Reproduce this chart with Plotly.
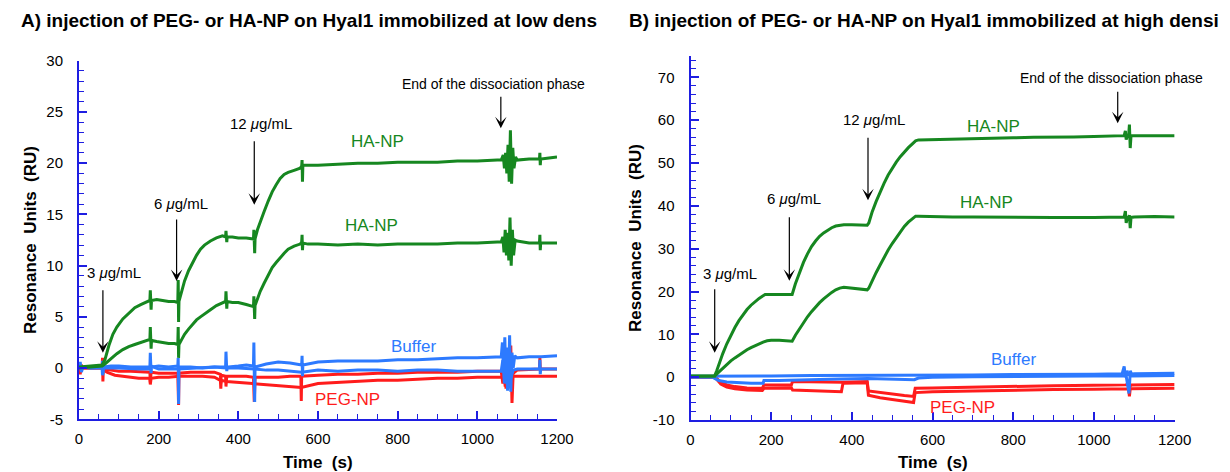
import plotly.graph_objects as go

# ---------------- data (time s, RU) ----------------
# Panel A: low density
A_HA_HIGH = [(0,0.1),(30,0.2),(58,0.3),(65,0.8),(75,2.2),(85,3.3),(95,4.0),(110,4.8),(125,5.4),(140,5.9),
             (155,6.2),(170,6.5),(178,6.6),(179,7.6),(181,5.7),(182,6.6),(195,6.7),(210,6.6),(225,6.5),
             (240,6.5),(248,6.4),(249,8.6),(250,4.5),(251,6.5),(258,7.5),(265,8.5),(275,9.5),(285,10.3),
             (295,11.0),(305,11.6),(315,12.0),(330,12.4),(345,12.7),(360,12.9),(368,12.8),(369,13.4),
             (371,12.3),(372,12.8),(385,12.8),(400,12.7),(420,12.7),(438,12.6),(439,13.5),(441,11.2),
             (442,12.6),(448,13.5),(455,14.3),(465,15.3),(475,16.3),(485,17.2),(495,17.9),(505,18.5),
             (515,18.9),(525,19.1),(540,19.3),(555,19.5),(559,19.7),(560,20.3),(561,18.2),(562,19.8),
             (575,19.8),(600,19.8),(650,19.9),(700,20.0),(750,20.0),(800,20.1),(850,20.1),(900,20.1),
             (950,20.2),(1000,20.2),(1050,20.3),(1060,20.3),(1065,20.8),(1068,19.5),(1071,21.0),
             (1074,19.0),(1077,21.8),(1080,18.2),(1083,23.2),(1086,18.0),(1089,21.5),(1092,19.5),
             (1096,20.6),(1100,20.3),(1130,20.4),(1156,20.4),(1157,21.0),(1158,19.8),(1159,20.4),
             (1180,20.5),(1200,20.6)]
A_HA_LOW = [(0,0.0),(30,0.1),(58,0.2),(65,0.4),(80,0.9),(95,1.4),(110,1.8),(125,2.1),(140,2.3),(155,2.5),
            (170,2.7),(178,2.8),(179,4.0),(181,1.9),(182,2.7),(195,2.6),(210,2.5),(225,2.4),(240,2.4),
            (248,2.3),(249,4.0),(250,1.0),(251,2.3),(258,2.8),(265,3.3),(275,3.8),(285,4.3),(295,4.7),
            (305,5.0),(315,5.3),(330,5.7),(345,6.1),(360,6.4),(368,6.5),(369,7.5),(371,5.8),(372,6.5),
            (385,6.4),(400,6.4),(420,6.2),(438,6.0),(439,7.0),(441,4.8),(442,6.1),(448,6.8),(455,7.5),
            (465,8.3),(475,9.1),(485,9.8),(495,10.3),(505,10.8),(515,11.2),(525,11.6),(540,11.9),
            (555,12.1),(559,12.3),(560,13.0),(561,11.5),(562,12.2),(575,12.1),(600,12.1),(650,12.0),
            (700,12.1),(750,12.0),(800,12.1),(850,12.1),(900,12.1),(950,12.2),(1000,12.2),(1050,12.3),
            (1060,12.3),(1064,12.8),(1067,11.3),(1070,13.5),(1073,11.0),(1076,13.2),(1079,10.5),
            (1082,14.7),(1085,10.0),(1088,13.5),(1091,11.0),(1095,12.5),(1100,12.4),(1130,12.2),
            (1156,12.2),(1157,13.0),(1158,11.5),(1159,12.2),(1180,12.2),(1200,12.2)]
A_BUF_1 = [(0,0.0),(3,0.6),(6,-0.4),(10,0.1),(30,0.0),(58,0.1),(59,0.7),(60,-0.6),(61,0.1),(80,0.2),
           (100,0.2),(130,0.1),(150,0.1),(178,0.1),(179,1.5),(181,-0.5),(182,0.1),(200,0.2),(225,0.1),
           (248,0.2),(249,1.0),(250,-3.5),(251,0.1),(280,0.1),(310,0.0),(340,0.1),(368,0.1),(369,1.6),
           (371,-0.3),(372,0.1),(400,0.2),(420,0.3),(438,0.2),(439,2.5),(441,-3.3),(442,0.1),(470,0.4),
           (500,0.6),(530,0.5),(559,0.3),(560,1.2),(561,-0.8),(562,0.3),(600,0.6),(650,0.7),(700,0.7),
           (750,0.7),(800,0.8),(850,0.8),(900,0.9),(950,1.0),(1000,1.0),(1050,1.1),(1060,1.1),
           (1063,2.5),(1066,-0.3),(1069,3.0),(1072,-1.5),(1075,2.0),(1078,-2.0),(1081,3.2),(1084,-2.3),
           (1087,1.5),(1090,0.0),(1094,1.2),(1100,1.0),(1130,1.1),(1160,1.1),(1200,1.2)]
A_BUF_2 = [(0,0.1),(30,0.0),(58,0.0),(59,-0.7),(61,0.0),(100,0.0),(150,-0.1),(178,-0.1),(181,0.2),
           (200,-0.1),(250,-0.1),(300,0.0),(340,0.1),(370,0.0),(400,0.0),(440,-0.1),(470,-0.2),
           (500,-0.2),(530,-0.3),(559,-0.4),(600,-0.2),(650,-0.3),(700,-0.2),(750,-0.2),(800,-0.3),
           (850,-0.2),(900,-0.2),(950,-0.3),(1000,-0.3),(1050,-0.3),(1060,-0.3),(1064,0.8),(1068,-1.5),
           (1072,1.0),(1076,-2.2),(1080,0.5),(1084,-1.0),(1090,-0.2),(1100,-0.1),(1156,-0.1),
           (1157,0.8),(1158,-0.6),(1159,-0.1),(1200,-0.1)]
A_PEG_1 = [(0,0.0),(3,-0.6),(6,0.3),(10,0.0),(30,0.0),(58,0.0),(59,1.0),(60,-1.3),(61,-0.1),(80,-0.2),
           (100,-0.3),(130,-0.3),(160,-0.4),(178,-0.4),(179,-1.4),(181,-0.4),(200,-0.5),(225,-0.5),
           (248,-0.5),(250,-3.6),(251,-0.5),(280,-0.4),(310,-0.4),(340,-0.4),(355,-0.6),(356,-1.5),
           (357,-0.7),(368,-0.8),(369,-1.8),(371,-0.8),(400,-0.8),(420,-0.8),(438,-0.9),(440,-3.3),
           (442,-0.9),(470,-0.9),(500,-0.9),(530,-0.8),(557,-0.8),(558,-3.2),(559,-0.8),(600,-0.7),
           (650,-0.6),(700,-0.6),(750,-0.5),(800,-0.5),(850,-0.4),(900,-0.4),(950,-0.4),(1000,-0.3),
           (1050,-0.3),(1060,-0.3),(1064,-1.5),(1068,0.8),(1072,-2.0),(1076,1.0),(1080,-1.0),
           (1084,2.2),(1087,-3.4),(1090,-0.5),(1100,-0.2),(1150,-0.1),(1156,-0.1),(1157,1.0),
           (1158,-0.1),(1200,-0.1)]
A_PEG_2 = [(0,0.0),(58,0.0),(60,-0.1),(70,-0.4),(90,-0.7),(110,-0.8),(130,-0.9),(150,-1.0),(178,-1.0),
           (179,-1.6),(181,-1.0),(200,-0.9),(225,-0.9),(248,-0.8),(251,-0.8),(280,-0.8),(310,-0.8),
           (340,-0.9),(355,-1.2),(356,-2.0),(357,-1.2),(370,-1.3),(400,-1.4),(420,-1.5),(440,-1.5),
           (470,-1.6),(500,-1.7),(530,-1.8),(555,-1.9),(558,-1.9),(600,-1.5),(650,-1.4),(700,-1.3),
           (750,-1.2),(800,-1.2),(850,-1.1),(900,-1.0),(950,-1.0),(1000,-0.9),(1050,-0.9),(1062,-0.9),
           (1066,-0.2),(1070,-1.8),(1074,-0.4),(1078,-1.5),(1082,-0.8),(1090,-0.8),(1100,-0.8),
           (1150,-0.8),(1200,-0.8)]

# Panel B: high density
B_HA_HIGH = [(0,0.3),(30,0.3),(58,0.2),(60,0.3),(65,1.5),(70,3.0),(80,5.5),(90,7.8),(100,9.8),(110,11.6),
             (120,13.2),(130,14.6),(140,15.8),(150,16.8),(160,17.7),(170,18.4),(180,19.0),(185,19.3),
             (200,19.3),(220,19.3),(240,19.3),(248,19.2),(252,19.3),(260,21.8),(270,24.5),(280,26.8),
             (290,28.8),(300,30.5),(310,31.8),(320,32.9),(330,33.7),(340,34.4),(350,34.9),(360,35.3),
             (370,35.5),(380,35.6),(400,35.6),(420,35.6),(438,35.5),(442,36.0),(450,38.5),(460,41.0),
             (470,43.3),(480,45.3),(490,47.2),(500,48.8),(510,50.2),(520,51.5),(530,52.6),(540,53.6),
             (550,54.5),(558,55.2),(565,55.4),(600,55.5),(650,55.6),(700,55.7),(750,55.8),(800,55.9),
             (850,56.0),(900,56.0),(950,56.1),(1000,56.2),(1050,56.3),(1075,56.4),(1078,57.5),
             (1080,55.5),(1083,56.3),(1086,56.4),(1088,59.0),(1090,53.5),(1092,56.4),(1100,56.4),
             (1150,56.5),(1200,56.4)]
B_HA_LOW = [(0,0.2),(58,0.2),(60,0.3),(70,1.2),(80,2.1),(90,3.0),(100,3.8),(110,4.5),(120,5.2),(130,5.8),
            (140,6.4),(150,6.9),(160,7.4),(170,7.8),(180,8.2),(190,8.5),(200,8.6),(220,8.6),(240,8.5),
            (248,8.3),(252,8.4),(260,9.8),(270,11.3),(280,12.8),(290,14.1),(300,15.3),(310,16.4),
            (320,17.4),(330,18.3),(340,19.1),(350,19.8),(360,20.4),(370,20.8),(380,21.0),(400,20.8),
            (420,20.6),(438,20.4),(442,20.8),(450,22.5),(460,24.4),(470,26.2),(480,28.0),(490,29.7),
            (500,31.2),(510,32.6),(520,34.0),(530,35.2),(540,36.2),(550,37.0),(558,37.6),(565,37.6),
            (600,37.5),(650,37.4),(700,37.4),(800,37.3),(900,37.3),(1000,37.3),(1050,37.3),(1075,37.4),
            (1078,38.8),(1080,36.0),(1083,37.3),(1086,37.3),(1088,37.8),(1090,34.8),(1092,37.3),
            (1100,37.4),(1150,37.5),(1200,37.4)]
B_BUF_1 = [(0,0.2),(60,0.2),(100,0.3),(200,0.3),(300,0.4),(400,0.4),(500,0.5),(600,0.5),(700,0.5),
           (800,0.6),(900,0.6),(1000,0.7),(1070,0.8),(1075,2.5),(1078,0.0),(1082,1.5),(1085,0.6),
           (1100,0.8),(1200,0.9)]
B_BUF_2 = [(0,0.0),(55,0.0),(60,-0.3),(70,-0.8),(90,-1.1),(120,-1.3),(150,-1.4),(180,-1.4),(182,-0.8),
           (220,-0.8),(250,-0.7),(300,-0.5),(370,-0.4),(440,-0.3),(500,-0.5),(555,-0.6),(565,-0.2),
           (600,0.0),(700,0.1),(800,0.2),(900,0.3),(1000,0.3),(1080,0.3),(1087,-3.8),(1089,-0.5),
           (1090,1.5),(1095,0.3),(1200,0.4)]
B_PEG_1 = [(0,0.0),(60,0.0),(65,-0.3),(75,-1.2),(90,-1.8),(110,-2.2),(140,-2.5),(178,-2.6),(182,-1.8),
           (220,-1.8),(250,-1.8),(253,-1.0),(300,-1.1),(340,-1.2),(376,-1.2),(400,-1.1),(438,-1.0),
           (441,-3.2),(470,-3.6),(500,-4.0),(530,-4.3),(553,-4.5),(557,-2.6),(600,-2.5),(700,-2.3),
           (800,-2.1),(900,-2.0),(1000,-1.9),(1080,-1.8),(1086,-1.3),(1088,-2.5),(1092,-1.8),(1200,-1.7)]
B_PEG_2 = [(0,0.0),(60,0.0),(65,-0.5),(75,-1.6),(90,-2.3),(110,-2.7),(140,-3.0),(178,-3.1),(182,-2.6),
           (220,-2.5),(250,-2.5),(253,-3.0),(300,-3.2),(340,-3.3),(374,-3.4),(378,-1.4),(400,-1.4),
           (438,-1.3),(441,-4.2),(470,-4.8),(500,-5.2),(530,-5.6),(553,-5.9),(557,-3.6),(600,-3.4),
           (700,-3.2),(800,-3.0),(900,-2.9),(1000,-2.8),(1086,-2.7),(1088,-4.5),(1090,-2.7),(1200,-2.6)]

X_TICKS = [0, 200, 400, 600, 800, 1000, 1200]
A_Y_TICKS = [-5, 0, 5, 10, 15, 20, 25, 30]
B_Y_TICKS = [-10, 0, 10, 20, 30, 40, 50, 60, 70]

TITLE_A = "A) injection of PEG- or HA-NP on Hyal1 immobilized at low dens"
TITLE_B = "B) injection of PEG- or HA-NP on Hyal1 immobilized at high densi"

# ---------------- style ----------------
FONT = "Liberation Sans, Arial, sans-serif"
GREEN = "rgb(22,135,32)"
RED = "rgb(255,28,28)"
BLUE = "rgb(45,122,255)"
AXBLUE = "rgb(30,30,225)"
W, H = 1230, 472

fig = go.Figure()

def add(series, color, xa, ya):
    fig.add_trace(go.Scatter(x=[p[0] for p in series], y=[p[1] for p in series], mode="lines",
                             line=dict(color=color, width=3), xaxis=xa, yaxis=ya,
                             showlegend=False, hoverinfo="skip"))

for s, c in [(A_PEG_1, RED), (A_PEG_2, RED), (A_BUF_2, BLUE), (A_BUF_1, BLUE),
             (A_HA_LOW, GREEN), (A_HA_HIGH, GREEN)]:
    add(s, c, "x", "y")
for s, c in [(B_PEG_1, RED), (B_PEG_2, RED), (B_BUF_2, BLUE), (B_BUF_1, BLUE),
             (B_HA_LOW, GREEN), (B_HA_HIGH, GREEN)]:
    add(s, c, "x2", "y2")

def axis(domain, rng, tickvals, minor_dtick, anchor, standoff):
    return dict(domain=domain, range=rng, tickmode="array", tickvals=tickvals,
                ticktext=[str(v) for v in tickvals],
                showline=True, linecolor=AXBLUE, linewidth=2, ticks="inside", tickcolor=AXBLUE,
                tickwidth=1.5, ticklen=8, showgrid=False, zeroline=False, anchor=anchor,
                tickfont=dict(family=FONT, size=15, color="black"), ticklabelstandoff=standoff,
                minor=dict(ticks="inside", dtick=minor_dtick, ticklen=5, tickcolor=AXBLUE,
                           tickwidth=1.2, showgrid=False),
                fixedrange=True, automargin=False)

fig.update_layout(
    width=W, height=H, margin=dict(l=0, r=0, t=0, b=0),
    paper_bgcolor="white", plot_bgcolor="white",
    font=dict(family=FONT, color="black"),
    xaxis=axis([79/W, 557/W], [0, 1200], X_TICKS, 50, "y", 5),
    yaxis=axis([1-419.3/H, 1-60.7/H], [-5, 30], A_Y_TICKS, 1, "x", 11),
    xaxis2=axis([690.5/W, 1174.6/W], [0, 1200], X_TICKS, 50, "y2", 5),
    yaxis2=axis([1-420/H, 1-56/H], [-10, 75], B_Y_TICKS, 2, "x2", 11),
)

ann = []
def text(x, y, s, xref, yref, size=15, color="black", xanchor="center", yanchor="middle", **kw):
    ann.append(dict(x=x, y=y, xref=xref, yref=yref, text=s, showarrow=False,
                    xanchor=xanchor, yanchor=yanchor,
                    font=dict(family=FONT, size=size, color=color), **kw))

def arrow(x, y, ay, xref, yref):
    ann.append(dict(x=x, y=y, xref=xref, yref=yref, text="", showarrow=True, ax=0, ay=ay,
                    arrowhead=3, arrowsize=1.6, arrowwidth=1.2, arrowcolor="black"))

# titles
text(19/W, 1-20/H, "<b>" + TITLE_A + "</b>", "paper", "paper", size=19, xanchor="left")
text(627/W, 1-20/H, "<b>" + TITLE_B + "</b>", "paper", "paper", size=19, xanchor="left")
# axis titles
text(30/W, 1-240/H, "<b>Resonance\u00a0 Units\u00a0 (RU)</b>", "paper", "paper", size=17, textangle=-90)
text(635/W, 1-238/H, "<b>Resonance\u00a0 Units\u00a0 (RU)</b>", "paper", "paper", size=17, textangle=-90)
text(318/W, 1-462/H, "<b>Time\u00a0 (s)</b>", "paper", "paper", size=17)
text(933/W, 1-462/H, "<b>Time\u00a0 (s)</b>", "paper", "paper", size=17)

# panel A annotations
text(87, 9.35, "3 <i>\u03bc</i>g/mL", "x", "y")
arrow(60, 1.5, -64, "x", "y")
text(255, 16.1, "6 <i>\u03bc</i>g/mL", "x", "y")
arrow(245, 8.5, -63, "x", "y")
text(457, 23.9, "12 <i>\u03bc</i>g/mL", "x", "y")
arrow(440, 15.95, -65, "x", "y")
text(1041, 27.75, "End of the dissociation phase", "x", "y", size=14)
arrow(1059, 23.4, -33, "x", "y")
text(750, 22.1, "HA-NP", "x", "y", size=17, color=GREEN)
text(735, 13.9, "HA-NP", "x", "y", size=17, color=GREEN)
text(840, 2.15, "Buffer", "x", "y", size=17, color=BLUE)
text(675, -3.05, "PEG-NP", "x", "y", size=17, color=RED)

# panel B annotations
text(97, 24.1, "3 <i>\u03bc</i>g/mL", "x2", "y2")
arrow(60, 5.7, -65, "x2", "y2")
text(257, 41.7, "6 <i>\u03bc</i>g/mL", "x2", "y2")
arrow(245, 22.5, -65, "x2", "y2")
text(456, 60.1, "12 <i>\u03bc</i>g/mL", "x2", "y2")
arrow(440, 41.3, -64, "x2", "y2")
text(1044, 69.9, "End of the dissociation phase", "x2", "y2", size=14)
arrow(1059, 59.3, -33, "x2", "y2")
text(750, 58.5, "HA-NP", "x2", "y2", size=17, color=GREEN)
text(734, 40.7, "HA-NP", "x2", "y2", size=17, color=GREEN)
text(801, 4.15, "Buffer", "x2", "y2", size=17, color=BLUE)
text(675, -7.0, "PEG-NP", "x2", "y2", size=17, color=RED)

fig.update_layout(annotations=ann)
fig.write_html("out.html", config={"displayModeBar": False},
               post_script="document.body.style.margin='0px';document.body.style.overflow='hidden';")
